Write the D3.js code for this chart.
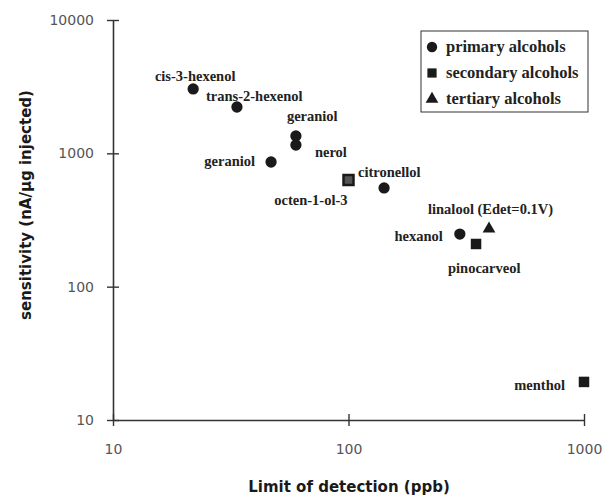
<!DOCTYPE html>
<html>
<head>
<meta charset="utf-8">
<script src="https://cdn.jsdelivr.net/npm/d3@7"></script>
<style>
  body { margin: 0; background: #fff; }
  svg { display: block; }
</style>
</head>
<body>
<svg id="chart" width="607" height="497"></svg>
<script>
// data
const compounds = ['cis-3-hexenol', 'trans-2-hexenol', 'geraniol', 'nerol', 'geraniol',
                   'octen-1-ol-3', 'citronellol', 'linalool (Edet=0.1V)', 'hexanol',
                   'pinocarveol', 'menthol'];
const lod =         [21.9, 33.6, 59.8, 59.8, 46.9, 100, 141.6, 395, 297, 348, 1000];
const sensitivity = [3040, 2226, 1349, 1155, 861, 631, 550, 271, 248, 209, 19.3];
const classes =     ['primary', 'primary', 'primary', 'primary', 'primary', 'secondary',
                     'primary', 'tertiary', 'primary', 'secondary', 'secondary'];
const legendItems = ['primary', 'secondary', 'tertiary'];
const legendLabels = ['primary alcohols', 'secondary alcohols', 'tertiary alcohols'];
const xTicks = [10, 100, 1000];
const yTicks = [10, 100, 1000, 10000];

// label placement (offset from the point, in px)
const labelPos = [
  { dx: 2, dy: -8, anchor: 'middle' },
  { dx: -31, dy: -6, anchor: 'start' },
  { dx: -9, dy: -15, anchor: 'start' },
  { dx: 19, dy: 12, anchor: 'start' },
  { dx: -16, dy: 4, anchor: 'end' },
  { dx: -1, dy: 25, anchor: 'end' },
  { dx: -26, dy: -11, anchor: 'start' },
  { dx: -61, dy: -15, anchor: 'start' },
  { dx: -17, dy: 7, anchor: 'end' },
  { dx: -28, dy: 29, anchor: 'start' },
  { dx: -19, dy: 8, anchor: 'end' }
];

const svg = d3.select('#chart');
const ink = '#1a1a1a';
const serif = '"Liberation Serif", "DejaVu Serif", serif';
const sans = '"DejaVu Sans", "Liberation Sans", sans-serif';

const x = d3.scaleLog().domain([10, 1000]).range([113, 584]);
const y = d3.scaleLog().domain([10, 10000]).range([420, 20]);

// axes: plain lines with ticks crossing both sides
const xAxis = svg.append('g').attr('transform', `translate(0,${y(10)})`)
  .call(d3.axisBottom(x).tickValues(xTicks).tickFormat(d3.format('d'))
    .tickSizeInner(6).tickSizeOuter(0).tickPadding(18));
const yAxis = svg.append('g').attr('transform', `translate(${x(10)},0)`)
  .call(d3.axisLeft(y).tickValues(yTicks).tickFormat(d3.format('d'))
    .tickSizeInner(6).tickSizeOuter(0).tickPadding(13));

[xAxis, yAxis].forEach(a => {
  a.select('.domain').attr('stroke', '#333').attr('stroke-width', 1.6);
  a.selectAll('.tick line').attr('stroke', '#333').attr('stroke-width', 1.4);
  a.selectAll('.tick text')
    .attr('fill', '#555')
    .style('font-family', sans)
    .style('font-size', '14px');
});
xAxis.selectAll('.tick line').attr('y1', -6);
yAxis.selectAll('.tick line').attr('x1', 6);

svg.append('text')
  .attr('x', 349).attr('y', 492)
  .attr('text-anchor', 'middle')
  .attr('fill', ink)
  .style('font-family', sans).style('font-weight', 'bold').style('font-size', '15px')
  .text('Limit of detection (ppb)');

svg.append('text')
  .attr('transform', 'translate(31,205) rotate(-90)')
  .attr('text-anchor', 'middle')
  .attr('fill', ink)
  .style('font-family', sans).style('font-weight', 'bold').style('font-size', '15px')
  .text('sensitivity (nA/μg injected)');

// markers
const symbolFor = { primary: d3.symbolCircle, secondary: d3.symbolSquare, tertiary: d3.symbolTriangle };
const sizeFor = { primary: 100, secondary: 110, tertiary: 70 };

const pts = compounds.map((name, i) => ({
  name, x: lod[i], y: sensitivity[i], cls: classes[i], pos: labelPos[i]
}));

svg.append('g').selectAll('path')
  .data(pts)
  .join('path')
  .attr('transform', d => `translate(${x(d.x)},${y(d.y)})`)
  .attr('d', d => d3.symbol(symbolFor[d.cls], d.name === 'octen-1-ol-3' ? 100 : sizeFor[d.cls])())
  .attr('fill', d => d.name === 'octen-1-ol-3' ? '#555' : ink)
  .attr('stroke', d => d.name === 'octen-1-ol-3' ? ink : 'none')
  .attr('stroke-width', 2.5);

svg.append('g').selectAll('text')
  .data(pts)
  .join('text')
  .attr('x', d => x(d.x) + d.pos.dx)
  .attr('y', d => y(d.y) + d.pos.dy)
  .attr('text-anchor', d => d.pos.anchor)
  .attr('fill', '#222')
  .style('font-family', serif).style('font-weight', 'bold').style('font-size', '14.5px')
  .text(d => d.name);

// legend
const legend = svg.append('g').attr('transform', 'translate(421,31)');
legend.append('rect')
  .attr('width', 167).attr('height', 81)
  .attr('fill', '#fff').attr('stroke', '#333').attr('stroke-width', 1);
const li = legend.selectAll('g.item')
  .data(legendItems)
  .join('g')
  .attr('class', 'item')
  .attr('transform', (d, i) => `translate(11,${16 + i * 26})`);
li.append('path')
  .attr('d', d => d3.symbol(symbolFor[d], d === 'tertiary' ? 70 : 85)())
  .attr('fill', ink);
li.append('text')
  .attr('x', 14).attr('y', 5)
  .attr('fill', '#222')
  .style('font-family', serif).style('font-weight', 'bold').style('font-size', '16.5px')
  .text((d, i) => legendLabels[i]);
</script>
</body>
</html>
